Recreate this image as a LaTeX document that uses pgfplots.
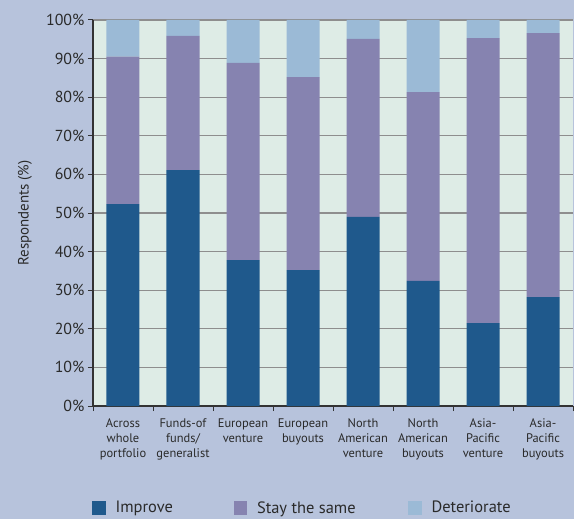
\documentclass[border=0pt]{standalone}
\usepackage{fontspec}
\setmainfont{PT Sans}
\usepackage{pgfplots}
\pgfplotsset{compat=1.18}
\definecolor{bgc}{HTML}{B7C3DC}
\definecolor{plotbg}{HTML}{DEECE6}
\definecolor{improve}{HTML}{1F598C}
\definecolor{stay}{HTML}{8683B0}
\definecolor{deter}{HTML}{9BBAD6}
\definecolor{gridc}{HTML}{8E8E8E}
\definecolor{txt}{HTML}{2A2A2A}
\begin{document}
\begin{tikzpicture}
\fill[bgc] (-93bp,-113bp) rectangle (481bp,406bp);
\begin{axis}[
  at={(0,0)}, anchor=south west,
  scale only axis, width=480bp, height=386bp,
  axis background/.style={fill=plotbg},
  ybar stacked, bar width=0.55,
  xmin=-0.5, xmax=7.5, ymin=0, ymax=100,
  axis x line*=bottom, axis y line*=left,
  axis line style={-, draw=black!80, line width=1.2pt},
  xtick={0,...,7},
  xticklabels={{Across\\whole\\portfolio},{Funds-of\\funds/\\generalist},{European\\venture},{European\\buyouts},{North\\American\\venture},{North\\American\\buyouts},{Asia-\\Pacific\\venture},{Asia-\\Pacific\\buyouts}},
  minor xtick={-0.5,0.5,...,7.5},
  major x tick style={draw=none},
  minor x tick style={draw=black!80, line width=1pt},
  minor tick length=5bp,
  ytick={0,10,...,100},
  yticklabel={\pgfmathprintnumber{\tick}\%},
  y tick style={draw=black!80, line width=1pt},
  major tick length=5bp,
  tick align=outside,
  ymajorgrids, grid style={gridc, line width=1.3pt},
  /pgf/number format/assume math mode=true,
  yticklabel style={font=\fontsize{16}{18}\selectfont, text=txt},
  xticklabel style={font=\fontsize{12.5}{15}\selectfont, text=txt, align=center, anchor=north, yshift=-4bp},
  ylabel={Respondents (\%)},
  ylabel style={at={(axis description cs:-0.1417,0.5)}, anchor=center, rotate=0, font=\fontsize{15}{18}\selectfont, text=txt},
  legend columns=3,
  legend style={at={(rel axis cs:-0.002,-0.264)}, anchor=west, draw=none, fill=none, inner sep=0pt, outer sep=0pt,
    nodes={inner sep=0pt, outer sep=0pt, font=\fontsize{16.5}{18}\selectfont, text=txt},
    /tikz/every even column/.append style={column sep=0pt}},
  legend image code/.code={\fill[#1] (0bp,-6.8bp) rectangle (13.5bp,6.8bp); \path (23.5bp,0bp);},
]
\addplot[fill=improve, draw=none] coordinates {(0,52.3) (1,61.1) (2,37.8) (3,35.2) (4,49.0) (5,32.4) (6,21.5) (7,28.2)};
\addlegendentry{\makebox[118bp][l]{Improve}}
\addplot[fill=stay, draw=none] coordinates {(0,38.2) (1,34.8) (2,51.1) (3,50.0) (4,46.1) (5,48.9) (6,73.8) (7,68.4)};
\addlegendentry{\makebox[151bp][l]{Stay the same}}
\addplot[fill=deter, draw=none] coordinates {(0,9.5) (1,4.1) (2,11.1) (3,14.8) (4,4.9) (5,18.7) (6,4.7) (7,3.4)};
\addlegendentry{Deteriorate}
\end{axis}
\pgfresetboundingbox
\path (-93bp,-113bp) rectangle (481bp,406bp);
\end{tikzpicture}
\end{document}
